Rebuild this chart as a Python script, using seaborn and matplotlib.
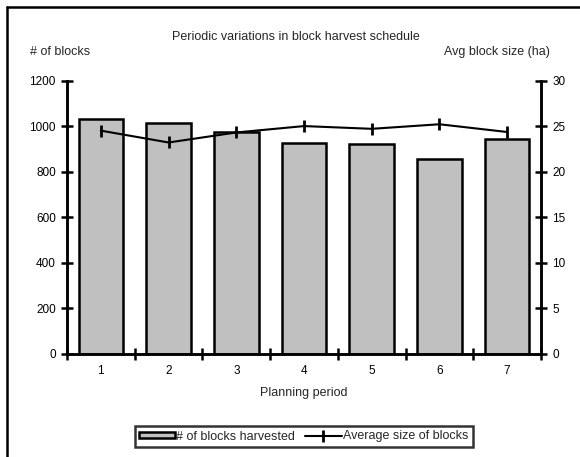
import matplotlib
matplotlib.use("Agg")
import matplotlib.pyplot as plt
from matplotlib.patches import Patch
from matplotlib.lines import Line2D
from matplotlib.ticker import FixedLocator, MultipleLocator
import seaborn as sns
import pandas as pd

periods = ["1", "2", "3", "4", "5", "6", "7"]
blocks_harvested = [1032, 1014, 972, 927, 920, 857, 945]
avg_block_size = [24.5, 23.2, 24.3, 25.0, 24.7, 25.2, 24.35]

df = pd.DataFrame({"period": periods,
                   "blocks": blocks_harvested,
                   "size": avg_block_size})

sns.set_theme(style="white")
plt.rcParams["font.family"] = ["Liberation Sans", "DejaVu Sans"]

TXT = 9
TICK = 8.5

fig = plt.figure(figsize=(5.8, 4.57), dpi=100)
W, H = 580, 457
left, right, top, bottom = 67, 541, 80.5, 354
ax = fig.add_axes([left / W, 1 - bottom / H, (right - left) / W, (bottom - top) / H])

sns.barplot(data=df, x="period", y="blocks", ax=ax, width=0.66,
            color="#C0C0C0", saturation=1, edgecolor="black", linewidth=1.8)

ax2 = ax.twinx()
sns.pointplot(data=df, x="period", y="size", ax=ax2, color="black",
              markers="|", linestyles="-", errorbar=None,
              markersize=9, markeredgewidth=2, linewidth=1.5)

ax.set_xlim(-0.5, len(periods) - 0.5)
ax.set_ylim(0, 1200)
ax2.set_ylim(0, 30)
ax.yaxis.set_major_locator(MultipleLocator(200))
ax2.yaxis.set_major_locator(MultipleLocator(5))

ax.set_xlabel("Planning period", fontsize=TXT, labelpad=7)
ax.set_ylabel("")
ax2.set_ylabel("")

for a in (ax, ax2):
    a.spines["top"].set_visible(False)
    for side in ("left", "right", "bottom"):
        a.spines[side].set_linewidth(1.8)
        a.spines[side].set_color("black")
    a.grid(False)

# category boundary ticks on the x axis, labels at bar centres
ax.xaxis.set_minor_locator(FixedLocator([i - 0.5 for i in range(len(periods) + 1)]))
ax.tick_params(axis="x", which="major", length=0, pad=8, labelsize=TICK, colors="black")
ax.tick_params(axis="x", which="minor", direction="inout", length=8, width=1.8,
               color="black", bottom=True)
ax.tick_params(axis="y", which="major", direction="inout", length=8, width=1.8,
               pad=4, labelsize=TICK, colors="black", left=True)
ax2.tick_params(axis="y", which="major", direction="inout", length=8, width=1.8,
                pad=4, labelsize=TICK, colors="black", right=True)
ax2.tick_params(axis="x", length=0)

fig.text(296 / W, 1 - 37 / H, "Periodic variations in block harvest schedule",
         ha="center", va="center", fontsize=TXT)
fig.text(30 / W, 1 - 52 / H, "# of blocks", ha="left", va="center", fontsize=TXT)
fig.text(550 / W, 1 - 52 / H, "Avg block size (ha)", ha="right", va="center",
         fontsize=TXT)

handles = [Patch(facecolor="#C0C0C0", edgecolor="black", linewidth=1.8),
           Line2D([], [], color="black", marker="|", markersize=9,
                  markeredgewidth=2, linewidth=1.5)]
labels = ["# of blocks harvested", "Average size of blocks"]
leg = fig.legend(handles, labels, loc="center", ncol=2,
                 bbox_to_anchor=(303.5 / W, 1 - 436.5 / H),
                 frameon=True, fancybox=False, fontsize=TXT,
                 handlelength=2.9, handleheight=0.45, handletextpad=0.1,
                 columnspacing=0.8, borderpad=0.35, borderaxespad=0)
leg.get_frame().set_edgecolor("black")
leg.get_frame().set_linewidth(1.8)

# outer frame of the figure
fig.add_artist(Line2D([7 / W, 7 / W], [0, 1 - 7 / H], color="black",
                      linewidth=1.8, transform=fig.transFigure))
fig.add_artist(Line2D([7 / W, 1], [1 - 7 / H, 1 - 7 / H], color="black",
                      linewidth=1.8, transform=fig.transFigure))

fig.savefig("out.png", dpi=100)
